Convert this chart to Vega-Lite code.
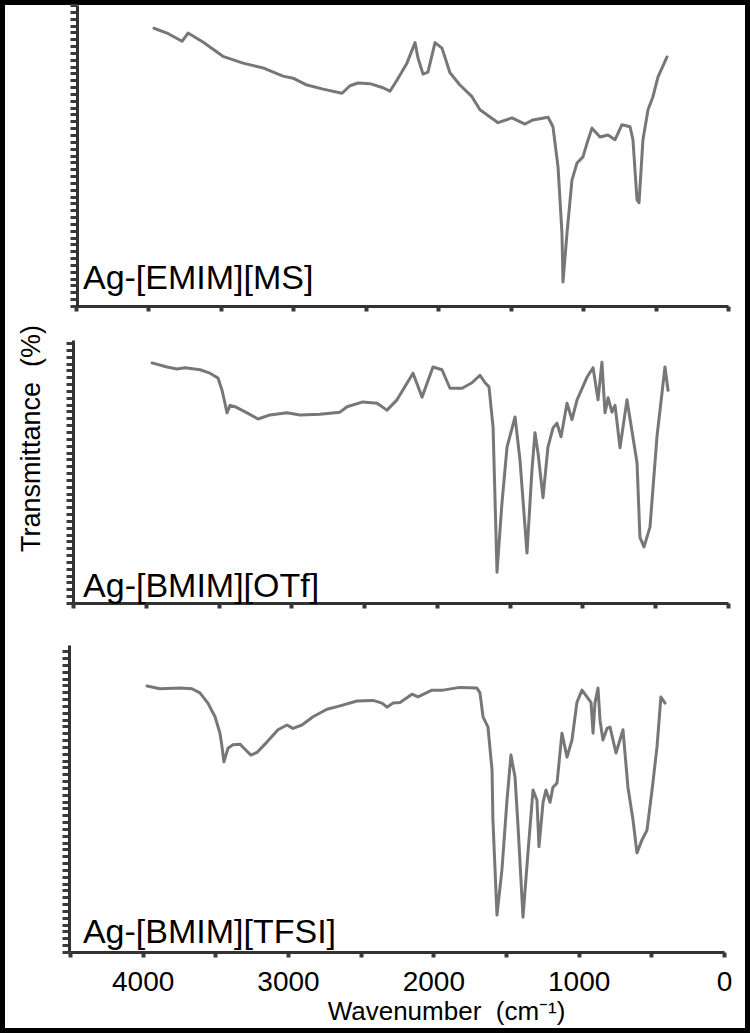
{
  "$schema": "https://vega.github.io/schema/vega-lite/v6.json",
  "width": 750,
  "height": 1033,
  "autosize": {"type": "fit", "contains": "padding"},
  "padding": 0,
  "background": "white",
  "config": {
    "view": {"stroke": "black", "strokeWidth": 10, "fill": "white"},
    "axis": {"grid": false, "domainColor": "#333333", "domainWidth": 3, "tickColor": "#3a3a3a", "labelFont": "Liberation Sans", "titleFont": "Liberation Sans", "labelColor": "black", "titleColor": "black", "titleFontWeight": "normal", "labelFlush": false, "labelOverlap": false},
    "text": {"font": "Liberation Sans"},
    "line": {"color": "#777777", "strokeWidth": 3, "strokeJoin": "round", "strokeCap": "round"}
  },
  "datasets": {
    "emim_ms": [
      {"wavenumber": 3962, "transmittance": 40.6}, {"wavenumber": 3872, "transmittance": 39.9}, {"wavenumber": 3768, "transmittance": 38.7}, {"wavenumber": 3727, "transmittance": 39.9}, {"wavenumber": 3624, "transmittance": 38.6}, {"wavenumber": 3486, "transmittance": 36.5}, {"wavenumber": 3347, "transmittance": 35.5}, {"wavenumber": 3209, "transmittance": 34.8}, {"wavenumber": 3071, "transmittance": 33.6}, {"wavenumber": 3002, "transmittance": 33.3}, {"wavenumber": 2906, "transmittance": 32.3}, {"wavenumber": 2795, "transmittance": 31.7}, {"wavenumber": 2664, "transmittance": 31.1}, {"wavenumber": 2609, "transmittance": 32.2}, {"wavenumber": 2554, "transmittance": 32.6}, {"wavenumber": 2471, "transmittance": 32.5}, {"wavenumber": 2381, "transmittance": 31.9}, {"wavenumber": 2333, "transmittance": 31.4}, {"wavenumber": 2285, "transmittance": 33.0}, {"wavenumber": 2216, "transmittance": 35.5}, {"wavenumber": 2160, "transmittance": 38.5}, {"wavenumber": 2140, "transmittance": 36.3}, {"wavenumber": 2105, "transmittance": 33.9}, {"wavenumber": 2071, "transmittance": 34.2}, {"wavenumber": 2022, "transmittance": 38.5}, {"wavenumber": 1974, "transmittance": 37.7}, {"wavenumber": 1919, "transmittance": 34.1}, {"wavenumber": 1850, "transmittance": 32.3}, {"wavenumber": 1767, "transmittance": 30.6}, {"wavenumber": 1712, "transmittance": 28.7}, {"wavenumber": 1587, "transmittance": 26.8}, {"wavenumber": 1491, "transmittance": 27.5}, {"wavenumber": 1401, "transmittance": 26.6}, {"wavenumber": 1346, "transmittance": 27.2}, {"wavenumber": 1242, "transmittance": 27.6}, {"wavenumber": 1208, "transmittance": 26.2}, {"wavenumber": 1173, "transmittance": 20.3}, {"wavenumber": 1146, "transmittance": 10.7}, {"wavenumber": 1139, "transmittance": 3.5}, {"wavenumber": 1111, "transmittance": 10.7}, {"wavenumber": 1077, "transmittance": 18.4}, {"wavenumber": 1042, "transmittance": 20.9}, {"wavenumber": 1001, "transmittance": 21.8}, {"wavenumber": 973, "transmittance": 23.8}, {"wavenumber": 939, "transmittance": 26.0}, {"wavenumber": 883, "transmittance": 24.7}, {"wavenumber": 828, "transmittance": 25.0}, {"wavenumber": 780, "transmittance": 24.3}, {"wavenumber": 732, "transmittance": 26.5}, {"wavenumber": 676, "transmittance": 26.2}, {"wavenumber": 656, "transmittance": 24.3}, {"wavenumber": 628, "transmittance": 15.5}, {"wavenumber": 614, "transmittance": 15.1}, {"wavenumber": 587, "transmittance": 24.3}, {"wavenumber": 552, "transmittance": 28.7}, {"wavenumber": 518, "transmittance": 30.6}, {"wavenumber": 483, "transmittance": 33.5}, {"wavenumber": 421, "transmittance": 36.4}
    ],
    "bmim_otf": [
      {"wavenumber": 3957, "transmittance": 35.1}, {"wavenumber": 3854, "transmittance": 34.5}, {"wavenumber": 3785, "transmittance": 34.2}, {"wavenumber": 3730, "transmittance": 34.4}, {"wavenumber": 3627, "transmittance": 34.1}, {"wavenumber": 3559, "transmittance": 33.6}, {"wavenumber": 3504, "transmittance": 32.9}, {"wavenumber": 3476, "transmittance": 31.1}, {"wavenumber": 3456, "transmittance": 29.2}, {"wavenumber": 3442, "transmittance": 27.8}, {"wavenumber": 3421, "transmittance": 28.9}, {"wavenumber": 3387, "transmittance": 28.7}, {"wavenumber": 3304, "transmittance": 27.8}, {"wavenumber": 3229, "transmittance": 26.9}, {"wavenumber": 3146, "transmittance": 27.5}, {"wavenumber": 3030, "transmittance": 27.8}, {"wavenumber": 2940, "transmittance": 27.5}, {"wavenumber": 2803, "transmittance": 27.6}, {"wavenumber": 2666, "transmittance": 27.9}, {"wavenumber": 2617, "transmittance": 28.7}, {"wavenumber": 2508, "transmittance": 29.4}, {"wavenumber": 2411, "transmittance": 29.2}, {"wavenumber": 2343, "transmittance": 28.2}, {"wavenumber": 2274, "transmittance": 29.7}, {"wavenumber": 2164, "transmittance": 33.6}, {"wavenumber": 2102, "transmittance": 30.1}, {"wavenumber": 2027, "transmittance": 34.5}, {"wavenumber": 1965, "transmittance": 34.1}, {"wavenumber": 1910, "transmittance": 31.4}, {"wavenumber": 1827, "transmittance": 31.4}, {"wavenumber": 1759, "transmittance": 32.2}, {"wavenumber": 1704, "transmittance": 33.3}, {"wavenumber": 1669, "transmittance": 32.2}, {"wavenumber": 1642, "transmittance": 31.6}, {"wavenumber": 1614, "transmittance": 25.7}, {"wavenumber": 1587, "transmittance": 4.5}, {"wavenumber": 1553, "transmittance": 14.6}, {"wavenumber": 1518, "transmittance": 22.8}, {"wavenumber": 1463, "transmittance": 27.2}, {"wavenumber": 1429, "transmittance": 20.9}, {"wavenumber": 1381, "transmittance": 7.3}, {"wavenumber": 1347, "transmittance": 19.4}, {"wavenumber": 1326, "transmittance": 24.9}, {"wavenumber": 1305, "transmittance": 21.9}, {"wavenumber": 1271, "transmittance": 15.4}, {"wavenumber": 1237, "transmittance": 22.8}, {"wavenumber": 1202, "transmittance": 25.6}, {"wavenumber": 1175, "transmittance": 26.3}, {"wavenumber": 1147, "transmittance": 24.3}, {"wavenumber": 1106, "transmittance": 29.2}, {"wavenumber": 1072, "transmittance": 26.8}, {"wavenumber": 1037, "transmittance": 29.7}, {"wavenumber": 969, "transmittance": 33.0}, {"wavenumber": 927, "transmittance": 34.4}, {"wavenumber": 893, "transmittance": 29.7}, {"wavenumber": 866, "transmittance": 35.2}, {"wavenumber": 845, "transmittance": 27.8}, {"wavenumber": 824, "transmittance": 30.0}, {"wavenumber": 797, "transmittance": 27.9}, {"wavenumber": 776, "transmittance": 28.9}, {"wavenumber": 742, "transmittance": 22.7}, {"wavenumber": 694, "transmittance": 29.7}, {"wavenumber": 625, "transmittance": 20.5}, {"wavenumber": 605, "transmittance": 9.6}, {"wavenumber": 577, "transmittance": 8.2}, {"wavenumber": 536, "transmittance": 11.1}, {"wavenumber": 488, "transmittance": 24.3}, {"wavenumber": 433, "transmittance": 34.5}, {"wavenumber": 412, "transmittance": 31.1}
    ],
    "bmim_tfsi": [
      {"wavenumber": 3970, "transmittance": 38.9}, {"wavenumber": 3881, "transmittance": 38.5}, {"wavenumber": 3743, "transmittance": 38.6}, {"wavenumber": 3661, "transmittance": 38.5}, {"wavenumber": 3606, "transmittance": 37.9}, {"wavenumber": 3551, "transmittance": 36.4}, {"wavenumber": 3502, "transmittance": 34.4}, {"wavenumber": 3468, "transmittance": 32.0}, {"wavenumber": 3454, "transmittance": 30.0}, {"wavenumber": 3441, "transmittance": 27.8}, {"wavenumber": 3413, "transmittance": 29.8}, {"wavenumber": 3379, "transmittance": 30.3}, {"wavenumber": 3330, "transmittance": 30.4}, {"wavenumber": 3303, "transmittance": 29.8}, {"wavenumber": 3255, "transmittance": 28.8}, {"wavenumber": 3213, "transmittance": 29.2}, {"wavenumber": 3145, "transmittance": 30.7}, {"wavenumber": 3069, "transmittance": 32.5}, {"wavenumber": 3007, "transmittance": 33.2}, {"wavenumber": 2966, "transmittance": 32.7}, {"wavenumber": 2904, "transmittance": 33.2}, {"wavenumber": 2828, "transmittance": 34.4}, {"wavenumber": 2732, "transmittance": 35.5}, {"wavenumber": 2642, "transmittance": 36.0}, {"wavenumber": 2525, "transmittance": 36.7}, {"wavenumber": 2415, "transmittance": 36.8}, {"wavenumber": 2353, "transmittance": 36.4}, {"wavenumber": 2319, "transmittance": 35.8}, {"wavenumber": 2278, "transmittance": 36.4}, {"wavenumber": 2229, "transmittance": 36.5}, {"wavenumber": 2147, "transmittance": 37.7}, {"wavenumber": 2106, "transmittance": 37.3}, {"wavenumber": 2009, "transmittance": 38.3}, {"wavenumber": 1934, "transmittance": 38.3}, {"wavenumber": 1817, "transmittance": 38.7}, {"wavenumber": 1700, "transmittance": 38.6}, {"wavenumber": 1679, "transmittance": 37.9}, {"wavenumber": 1658, "transmittance": 34.4}, {"wavenumber": 1624, "transmittance": 32.9}, {"wavenumber": 1596, "transmittance": 26.6}, {"wavenumber": 1590, "transmittance": 19.3}, {"wavenumber": 1562, "transmittance": 5.4}, {"wavenumber": 1528, "transmittance": 12.0}, {"wavenumber": 1493, "transmittance": 22.2}, {"wavenumber": 1466, "transmittance": 28.8}, {"wavenumber": 1438, "transmittance": 25.6}, {"wavenumber": 1417, "transmittance": 18.3}, {"wavenumber": 1383, "transmittance": 5.1}, {"wavenumber": 1349, "transmittance": 14.5}, {"wavenumber": 1314, "transmittance": 23.7}, {"wavenumber": 1287, "transmittance": 22.2}, {"wavenumber": 1273, "transmittance": 15.4}, {"wavenumber": 1245, "transmittance": 21.9}, {"wavenumber": 1225, "transmittance": 23.7}, {"wavenumber": 1197, "transmittance": 21.9}, {"wavenumber": 1177, "transmittance": 24.1}, {"wavenumber": 1149, "transmittance": 24.7}, {"wavenumber": 1115, "transmittance": 32.0}, {"wavenumber": 1080, "transmittance": 28.5}, {"wavenumber": 1046, "transmittance": 31.0}, {"wavenumber": 1012, "transmittance": 36.5}, {"wavenumber": 977, "transmittance": 38.3}, {"wavenumber": 943, "transmittance": 37.3}, {"wavenumber": 915, "transmittance": 36.5}, {"wavenumber": 901, "transmittance": 32.0}, {"wavenumber": 888, "transmittance": 36.4}, {"wavenumber": 867, "transmittance": 38.6}, {"wavenumber": 853, "transmittance": 33.9}, {"wavenumber": 833, "transmittance": 31.0}, {"wavenumber": 805, "transmittance": 32.7}, {"wavenumber": 784, "transmittance": 32.9}, {"wavenumber": 743, "transmittance": 29.1}, {"wavenumber": 695, "transmittance": 32.5}, {"wavenumber": 661, "transmittance": 24.1}, {"wavenumber": 626, "transmittance": 19.3}, {"wavenumber": 599, "transmittance": 14.5}, {"wavenumber": 564, "transmittance": 16.4}, {"wavenumber": 530, "transmittance": 17.8}, {"wavenumber": 495, "transmittance": 23.7}, {"wavenumber": 461, "transmittance": 30.0}, {"wavenumber": 434, "transmittance": 37.3}, {"wavenumber": 406, "transmittance": 36.4}
    ]
  },
  "layer": [
    {
      "layer": [
        {
          "data": {"name": "emim_ms"},
          "mark": {"type": "line"},
          "encoding": {
            "x": {"field": "wavenumber", "type": "quantitative",
              "scale": {"domain": [0, 4500], "range": [728, 76], "nice": false, "zero": false},
              "axis": {"orient": "bottom", "offset": -727, "values": [0, 500, 1000, 1500, 2000, 2500, 3000, 3500, 4000, 4500], "labels": false, "title": null, "tickSize": 5, "tickWidth": 4}},
            "y": {"field": "transmittance", "type": "quantitative",
              "scale": {"domain": [0, 44], "range": [306, 5], "nice": false, "zero": false},
              "axis": {"orient": "left", "offset": -77, "tickCount": 44, "labels": false, "title": null, "tickSize": 7, "tickWidth": 3}}
          }
        },
        {
          "data": {"values": [{"label": "Ag-[EMIM][MS]"}]},
          "mark": {"type": "text", "align": "left", "baseline": "alphabetic", "fontSize": 34, "color": "black"},
          "encoding": {
            "x": {"datum": 4452, "type": "quantitative"},
            "y": {"datum": 2.49, "type": "quantitative"},
            "text": {"field": "label", "type": "nominal"}
          }
        }
      ]
    },
    {
      "layer": [
        {
          "data": {"name": "bmim_otf"},
          "mark": {"type": "line"},
          "encoding": {
            "x": {"field": "wavenumber", "type": "quantitative",
              "scale": {"domain": [0, 4500], "range": [728, 73], "nice": false, "zero": false},
              "axis": {"orient": "bottom", "offset": -430, "values": [0, 500, 1000, 1500, 2000, 2500, 3000, 3500, 4000, 4500], "labels": false, "title": null, "tickSize": 5, "tickWidth": 4}},
            "y": {"field": "transmittance", "type": "quantitative",
              "scale": {"domain": [0, 38.45], "range": [603, 340], "nice": false, "zero": false},
              "axis": {"orient": "left", "offset": -73, "tickCount": 38, "labels": false, "tickSize": 7, "tickWidth": 3,
                "title": "Transmittance\u00a0\u00a0(%)", "titleFontSize": 27, "titleX": -42, "titleY": 438, "titleAngle": -90, "titleAlign": "center", "titleBaseline": "middle"}}
          }
        },
        {
          "data": {"values": [{"label": "Ag-[BMIM][OTf]"}]},
          "mark": {"type": "text", "align": "left", "baseline": "alphabetic", "fontSize": 34, "color": "black"},
          "encoding": {
            "x": {"datum": 4431, "type": "quantitative"},
            "y": {"datum": 0.88, "type": "quantitative"},
            "text": {"field": "label", "type": "nominal"}
          }
        }
      ]
    },
    {
      "layer": [
        {
          "data": {"name": "bmim_tfsi"},
          "mark": {"type": "line"},
          "encoding": {
            "x": {"field": "wavenumber", "type": "quantitative",
              "scale": {"domain": [0, 4500], "range": [724, 70], "nice": false, "zero": false},
              "axis": {"orient": "bottom", "offset": -81, "values": [0, 500, 1000, 1500, 2000, 2500, 3000, 3500, 4000, 4500], "format": "d",
                "labelExpr": "datum.value % 1000 === 0 && datum.value < 4500 ? datum.label : ''",
                "labelFontSize": 28, "labelBaseline": "alphabetic", "labelPadding": 33, "tickSize": 5, "tickWidth": 4,
                "title": "Wavenumber\u00a0\u00a0(cm⁻¹)", "titleFontSize": 26, "titleX": 446, "titleY": 67, "titleAlign": "center", "titleBaseline": "alphabetic"}},
            "y": {"field": "transmittance", "type": "quantitative",
              "scale": {"domain": [0, 44.9], "range": [952, 645], "nice": false, "zero": false},
              "axis": {"orient": "left", "offset": -69, "tickCount": 45, "labels": false, "title": null, "tickSize": 7, "tickWidth": 3}}
          }
        },
        {
          "data": {"values": [{"label": "Ag-[BMIM][TFSI]"}]},
          "mark": {"type": "text", "align": "left", "baseline": "alphabetic", "fontSize": 34, "color": "black"},
          "encoding": {
            "x": {"datum": 4411, "type": "quantitative"},
            "y": {"datum": 1.32, "type": "quantitative"},
            "text": {"field": "label", "type": "nominal"}
          }
        }
      ]
    }
  ],
  "resolve": {"scale": {"x": "independent", "y": "independent"}, "axis": {"x": "independent", "y": "independent"}}
}
